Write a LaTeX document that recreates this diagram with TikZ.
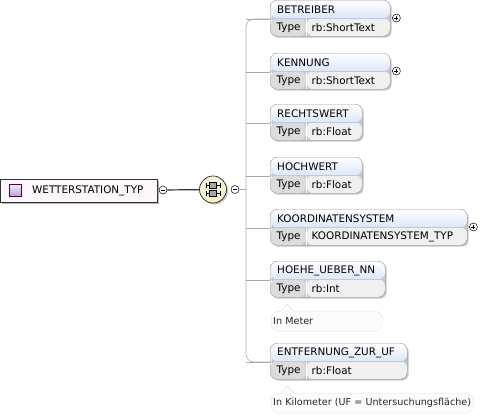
\documentclass[tikz,border=0pt]{standalone}
\usepackage{fontspec}
\setmainfont{DejaVu Sans}
\usetikzlibrary{positioning,shadows}

\definecolor{elemborder}{RGB}{150,150,150}
\definecolor{headblue}{RGB}{186,207,244}
\definecolor{typegray}{RGB}{220,220,220}
\definecolor{valgray}{RGB}{240,240,240}
\definecolor{treegray}{RGB}{170,170,170}
\definecolor{seqyellow}{RGB}{244,238,196}
\definecolor{iconviolet}{RGB}{176,160,216}
\definecolor{notefill}{RGB}{252,252,252}
\definecolor{noteborder}{RGB}{224,224,224}

\begin{document}
\begin{tikzpicture}[x=1pt,y=-1pt,font=\fontsize{10.4}{12}\selectfont]

	\tikzset{elem/.style={draw=elemborder, rounded corners=7pt, minimum height=36pt,
			inner sep=0pt, anchor=north west,
			drop shadow={shadow xshift=1.5pt, shadow yshift=-1.5pt, fill=black!45, opacity=0.5},
			path picture={
				\shade[top color=white, bottom color=headblue]
				(path picture bounding box.north west) rectangle ([yshift=-18pt]path picture bounding box.north east);
				\fill[typegray] ([yshift=-18pt]path picture bounding box.north west) rectangle ([xshift=36pt]path picture bounding box.south west);
				\fill[valgray] ([xshift=36pt,yshift=-18pt]path picture bounding box.north west) rectangle (path picture bounding box.south east);
				\draw[white] ([xshift=36pt,yshift=-18pt]path picture bounding box.north west) -- ([xshift=36pt]path picture bounding box.south west);
				\draw[headblue!80!black!60] ([yshift=-18pt]path picture bounding box.north west) -- ([yshift=-18pt]path picture bounding box.north east);
			}}}
	\tikzset{tree/.style={draw=treegray, line width=0.6pt}}
	\tikzset{sign/.style={circle, draw=black, fill=white, line width=0.5pt,
			minimum size=8pt, inner sep=0pt}}
	\tikzset{minus/.style={sign, path picture={
				\draw[line width=0.5pt] ([xshift=-2pt]path picture bounding box.center) -- ([xshift=2pt]path picture bounding box.center);}}}
	\tikzset{plus/.style={sign, path picture={
				\draw[line width=0.5pt] ([xshift=-2pt]path picture bounding box.center) -- ([xshift=2pt]path picture bounding box.center);
				\draw[line width=0.5pt] ([yshift=-2pt]path picture bounding box.center) -- ([yshift=2pt]path picture bounding box.center);}}}
	\tikzset{note/.style={draw=noteborder, fill=notefill, rounded corners=8pt,
			minimum height=20pt, inner xsep=2pt, inner ysep=0pt, anchor=north west,
			font=\fontsize{9.6}{11}\selectfont, text=black!85}}

	\useasboundingbox (0,0) rectangle (484,416);

	% root type
	\node[draw=black!80, line width=0.7pt, fill=violet!3, minimum width=157pt, minimum height=23pt,
		inner sep=0pt, anchor=north west,
		drop shadow={shadow xshift=2pt, shadow yshift=-2pt, fill=black!50, opacity=0.6}] (wetter) at (0,179) {};
	\node[draw=violet!60!black, top color=violet!8, bottom color=iconviolet, minimum size=12pt,
		inner sep=0pt] (wetter-icon) at (15.5,190.5) {};
	\node[anchor=west, inner sep=0pt] (wetter-label) at (32,190.5) {WETTERSTATION\_TYP};
	\node[minus] (wetter-minus) at (163,190) {};

	% sequence
	\node[circle, draw=black!85, line width=0.7pt, top color=seqyellow!60, bottom color=seqyellow,
		minimum size=27pt, inner sep=0pt,
		drop shadow={shadow xshift=1.5pt, shadow yshift=-1.5pt, fill=black!40, opacity=0.6}] (seq) at (213,189.5) {};
	\foreach \dy in {-4,4}{
		\draw[line width=0.8pt] ([shift={(-7,\dy)}]seq.center) -- ([shift={(7,\dy)}]seq.center)
		([shift={(-7,\dy-2.5)}]seq.center) -- ([shift={(-7,\dy+2.5)}]seq.center)
		([shift={(7,\dy-2.5)}]seq.center) -- ([shift={(7,\dy+2.5)}]seq.center);
		\draw[fill=black!35, line width=0.6pt] ([shift={(-3.5,\dy-3)}]seq.center) rectangle ([shift={(3.5,\dy+3)}]seq.center);
	}
	\node[minus] (seq-minus) at (235,189.5) {};
	\coordinate (fork) at (246,189.5);

	\draw[black!80, line width=1.2pt] (wetter-minus) -- (seq);
	\draw[tree] (seq-minus) -- (fork);

	% child elements
	\foreach \id/\name/\ytop/\boxw/\tname in {
		bet/BETREIBER/0/120/rb:ShortText,
		ken/KENNUNG/53/120/rb:ShortText,
		rechts/RECHTSWERT/104/92/rb:Float,
		hoch/HOCHWERT/157/92/rb:Float,
		koord/KOORDINATENSYSTEM/209/197/KOORDINATENSYSTEM\_TYP,
		hoehe/HOEHE\_UEBER\_NN/261/115/rb:Int,
		ent/ENTFERNUNG\_ZUR\_UF/343/137/rb:Float}{
		\node[elem, minimum width=\boxw pt] (\id) at (270,\ytop) {};
		\node[anchor=west, inner sep=0pt] (\id-name) at ([xshift=7pt,yshift=-9.5pt]\id.north west) {\name};
		\node[anchor=west, inner sep=0pt] (\id-key) at ([xshift=6.5pt,yshift=8.5pt]\id.south west) {Type};
		\node[anchor=west, inner sep=0pt] (\id-type) at ([xshift=41.5pt,yshift=8.5pt]\id.south west) {\tname};
		\draw[tree] ([yshift=-19pt]\id.north west) -- ++(-24,0);
	}
	\draw[tree, rounded corners=8pt] ([yshift=-19pt]bet.north west) -| (fork) |- ([yshift=-19pt]ent.north west);

	\node[plus] (bet-plus) at ([xshift=6pt,yshift=-18pt]bet.north east) {};
	\node[plus] (ken-plus) at ([xshift=6pt,yshift=-18pt]ken.north east) {};
	\node[plus] (koord-plus) at ([xshift=6pt,yshift=-18pt]koord.north east) {};

	% documentation
	\node[note, text width=107pt] (hoehe-note) at (271,311) {In Meter};
	\node[note, text width=198pt] (ent-note) at (271,393) {In Kilometer (UF = Untersuchungsfläche)};
	\foreach \nn in {hoehe-note, ent-note}{
		\fill[notefill] ([xshift=10pt,yshift=-0.6pt]\nn.north west) -- ++(6,-7) -- ++(7,7) -- cycle;
		\draw[noteborder] ([xshift=10pt]\nn.north west) -- ++(6,-7) -- ++(7,7);
	}
\end{tikzpicture}
\end{document}
